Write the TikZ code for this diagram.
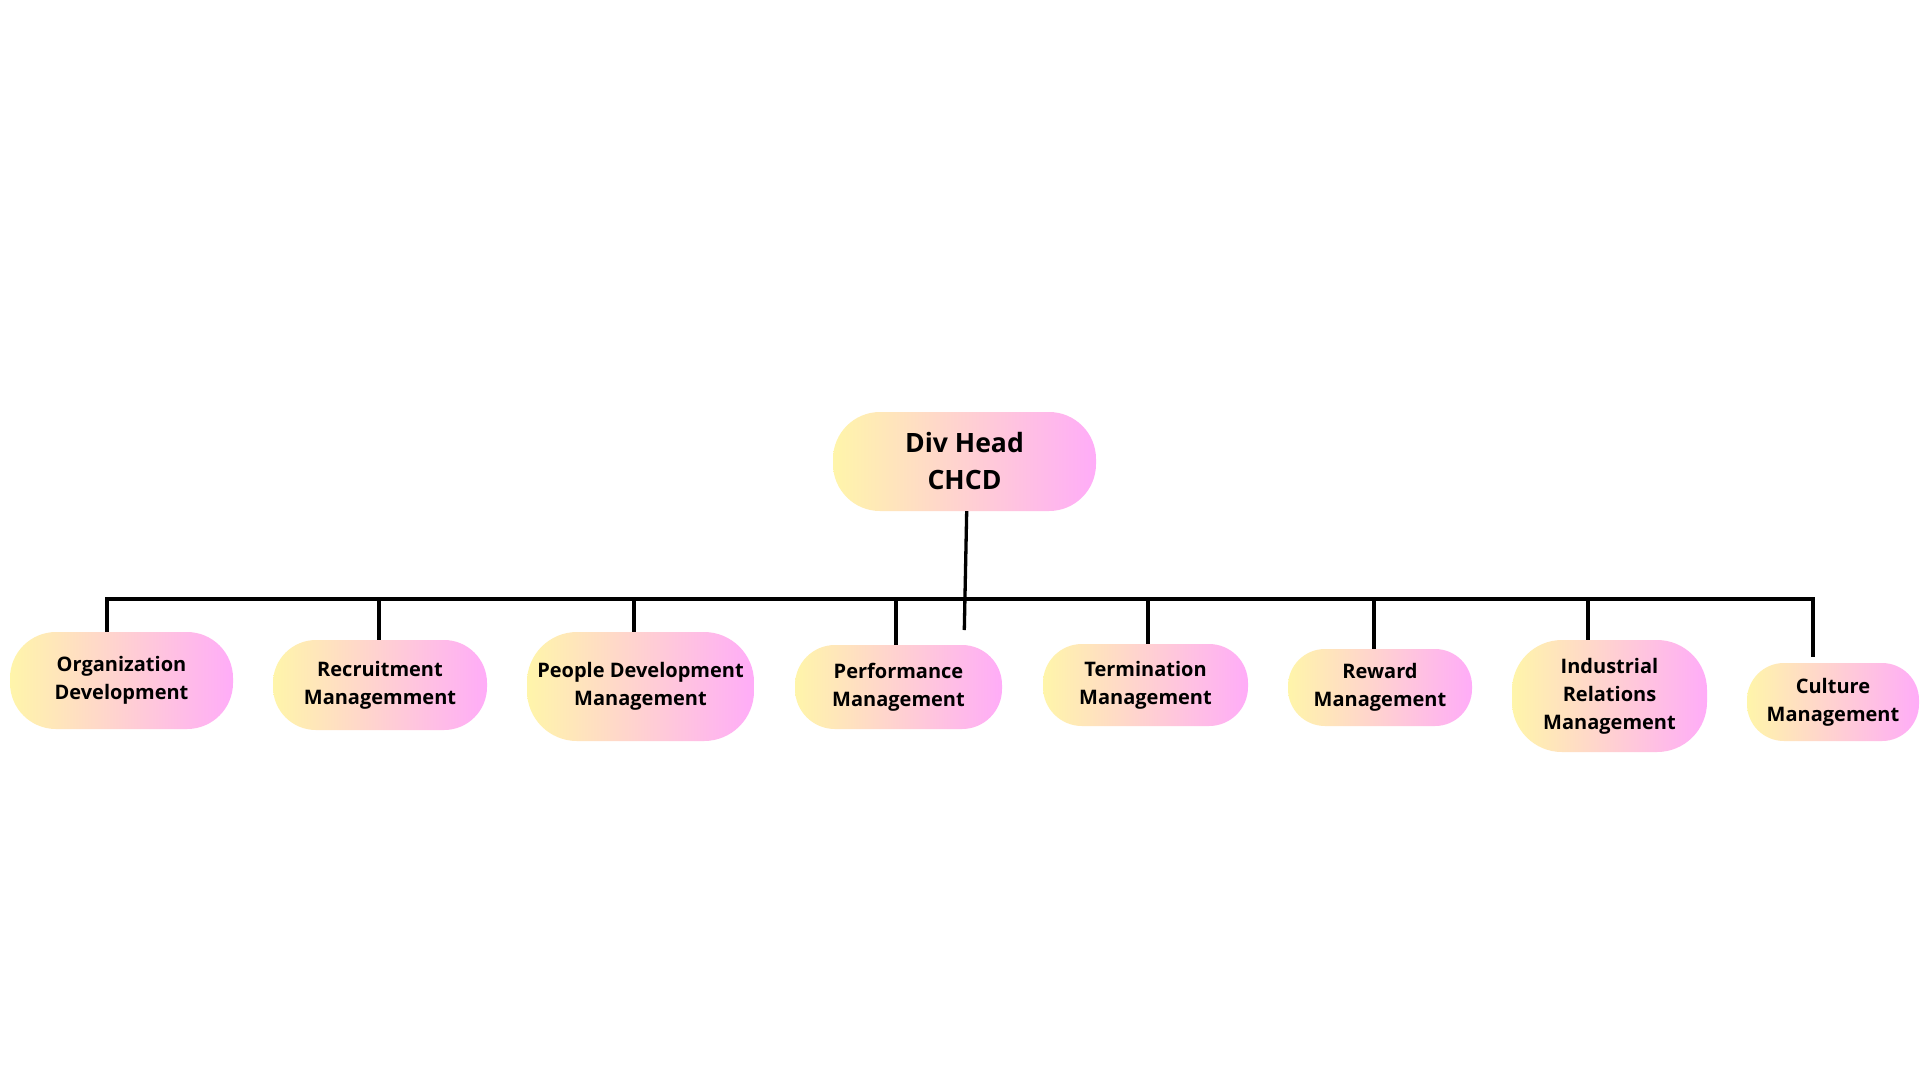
\documentclass[tikz,border=0pt]{standalone}
\usepackage{fontspec}
\setmainfont{Open Sans}
\definecolor{yelc}{HTML}{FFF5AA}
\definecolor{pinkc}{HTML}{FFACF8}
\tikzset{
  pill/.style={shape=rectangle, inner sep=0pt, left color=yelc, right color=pinkc, draw=none,
    align=center, font=\fontsize{20}{28}\selectfont\bfseries, text=black},
  conn/.style={line width=3.3pt, draw=black, line cap=butt},
}
\begin{document}
\begin{tikzpicture}[x=1pt,y=-1pt]
\useasboundingbox (0,0) rectangle (1920,1080);
\fill[white] (0,0) rectangle (1920,1080);
% head
\node[pill, minimum width=263pt, minimum height=99pt, rounded corners=47pt,
  font=\fontsize{26.6}{37}\selectfont\bfseries] (head) at (964.5,461.5) {Div Head\\CHCD};
% children
\node[pill, minimum width=223pt, minimum height=97pt, rounded corners=46pt] (org) at (121.5,680.5) {Organization\\Development};
\node[pill, minimum width=214pt, minimum height=90pt, rounded corners=43pt] (rec) at (380,685) {Recruitment\\Managemment};
\node[pill, minimum width=227pt, minimum height=109pt, rounded corners=50pt] (ppl) at (640.5,686.5) {People Development\\Management};
\node[pill, minimum width=207pt, minimum height=84pt, rounded corners=40pt] (perf) at (898.5,687) {Performance\\Management};
\node[pill, minimum width=205pt, minimum height=82pt, rounded corners=39pt] (term) at (1145.5,685) {Termination\\Management};
\node[pill, minimum width=184pt, minimum height=77pt, rounded corners=37pt] (rew) at (1380,687.5) {Reward\\Management};
\node[pill, minimum width=195pt, minimum height=112pt, rounded corners=50pt] (ind) at (1609.5,696) {Industrial\\Relations\\Management};
\node[pill, minimum width=172pt, minimum height=78pt, rounded corners=37pt] (cul) at (1833,702) {Culture\\Management};
% bus coordinates
\coordinate (b1) at (107,599);
\coordinate (b2) at (379,599);
\coordinate (b3) at (634,599);
\coordinate (b4) at (896,599);
\coordinate (b5) at (1148,599);
\coordinate (b6) at (1374,599);
\coordinate (b7) at (1588,599);
\coordinate (b8) at (1813,599);
\coordinate (hend) at (964.3,630);
% connectors
\draw[conn] (b1 |- org.north) -- (b1) -- (b8) -- ([yshift=6pt]b8 |- cul.north);
\draw[conn] ([xshift=2.2pt]head.south) -- (hend);
\draw[conn] (b2) -- (b2 |- rec.north);
\draw[conn] (b3) -- (b3 |- ppl.north);
\draw[conn] (b4) -- (b4 |- perf.north);
\draw[conn] (b5) -- (b5 |- term.north);
\draw[conn] (b6) -- (b6 |- rew.north);
\draw[conn] (b7) -- (b7 |- ind.north);
\end{tikzpicture}
\end{document}
